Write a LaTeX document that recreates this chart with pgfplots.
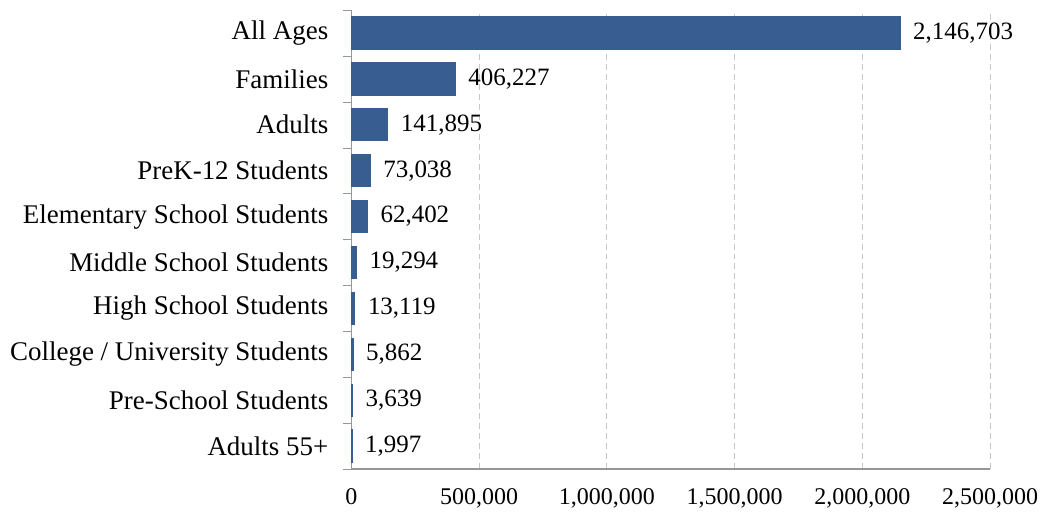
\documentclass[border=0pt]{standalone}
\usepackage{fontspec}
\setmainfont{Liberation Serif}
\usepackage{pgfplots}
\pgfplotsset{compat=1.18}
\usepackage{pgfplotstable}
\definecolor{barblue}{RGB}{56,94,145}
\definecolor{axgray}{RGB}{150,150,150}
\definecolor{gridgray}{RGB}{200,200,200}
\pgfplotstableread{
y x label
9 2146703 2,146,703
8 406227 406,227
7 141895 141,895
6 73038 73,038
5 62402 62,402
4 19294 19,294
3 13119 13,119
2 5862 5,862
1 3639 3,639
0 1997 1,997
}\datatable
\begin{document}
\begin{tikzpicture}
\begin{axis}[
  name=ax,
  scale only axis,
  width=320pt, height=230pt,
  xbar, bar width=16pt,
  xmin=0, xmax=2500000,
  ymin=-0.5, ymax=9.5,
  xtick={0,500000,1000000,1500000,2000000,2500000},
  scaled x ticks=false,
  /pgf/number format/.cd, fixed, 1000 sep={,}, assume math mode=true,
  /pgfplots/.cd,
  ytick={0,...,9},
  yticklabels={Adults 55+,Pre-School Students,College / University Students,High School Students,Middle School Students,Elementary School Students,PreK-12 Students,Adults,Families,All Ages},
  extra y ticks={-0.5,0.5,1.5,2.5,3.5,4.5,5.5,6.5,7.5,8.5,9.5},
  extra y tick labels={},
  extra y tick style={major tick length=4pt, tick align=outside, tick style={axgray}, grid=none},
  major tick length=0pt,
  axis lines*=left,
  axis line style={axgray, line width=0.8pt},
  xtick style={axgray, line width=0.6pt},
  x tick label style={yshift=-6pt, font=\fontsize{12}{13}\selectfont},
  xmajorgrids,
  major grid style={gridgray, dash pattern=on 3pt off 2pt, line width=0.5pt},
  tick label style={black},
  y tick label style={xshift=-8pt, font=\fontsize{13.5}{14}\selectfont},
  nodes near coords,
  point meta=explicit symbolic,
  nodes near coords style={font=\fontsize{12.5}{13}\selectfont, black, anchor=west, xshift=3pt},
  clip=false,
]
\addplot[fill=barblue, draw=barblue, line width=0.7pt] table[x=x, y=y, meta=label] {\datatable};
\end{axis}
\pgfresetboundingbox
\path ([xshift=-176pt,yshift=-26pt]ax.south west) rectangle ([xshift=25pt,yshift=5pt]ax.north east);
\end{tikzpicture}
\end{document}
